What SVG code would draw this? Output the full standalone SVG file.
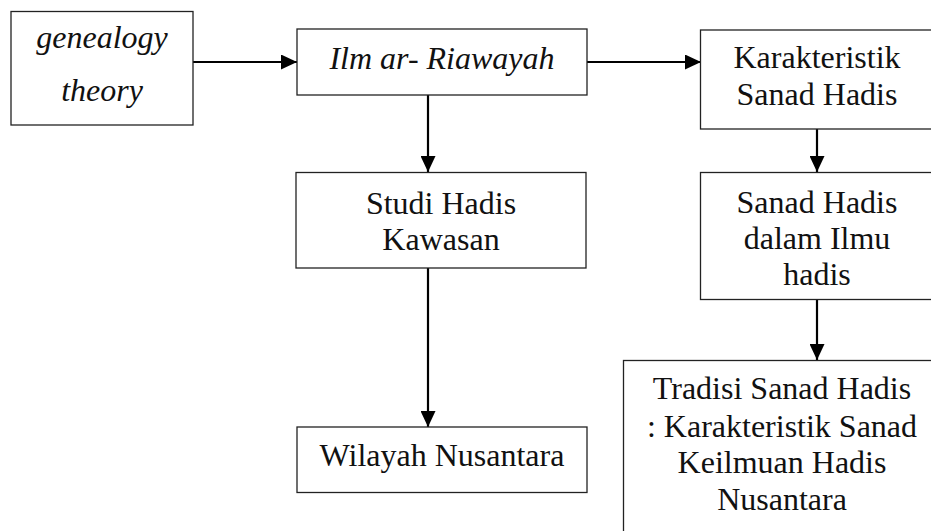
<svg xmlns="http://www.w3.org/2000/svg" width="931" height="531" viewBox="0 0 931 531">
<defs>
<style>
.box{fill:#fff;stroke:#222;stroke-width:1.3}
.t{font-size:32px;fill:#111;text-anchor:middle}
.i{font-style:italic}
.c{stroke:#000;stroke-width:2.2;fill:none;marker-end:url(#ah)}
</style>
<marker id="ah" viewBox="0 0 16 15" refX="16" refY="7.5" markerWidth="16" markerHeight="15" markerUnits="userSpaceOnUse" orient="auto">
<path d="M0,0 L16,7.5 L0,15 Z" fill="#000"/>
</marker>
</defs>
<rect width="931" height="531" fill="#fff"/>
<g id="connectors">
<line class="c" x1="193" y1="62" x2="297" y2="62"/>
<line class="c" x1="587" y1="62" x2="701" y2="62"/>
<line class="c" x1="428" y1="95" x2="428" y2="172"/>
<line class="c" x1="428" y1="268" x2="428" y2="427"/>
<line class="c" x1="817" y1="129" x2="817" y2="172"/>
<line class="c" x1="817" y1="299" x2="817" y2="360"/>
</g>
<g font-family="'Liberation Serif', 'Times New Roman', Times, serif">
<g id="genealogy">
<rect class="box" x="11" y="11.5" width="182" height="113.5"/>
<text class="t i" x="102" y="48">genealogy</text>
<text class="t i" x="102" y="101">theory</text>
</g>
<g id="ilm">
<rect class="box" x="297" y="29" width="290" height="66"/>
<text class="t i" x="442" y="69">Ilm ar- Riawayah</text>
</g>
<g id="karakteristik">
<rect class="box" x="700.5" y="30" width="240" height="99"/>
<text class="t" x="817" y="68">Karakteristik</text>
<text class="t" x="817" y="105">Sanad Hadis</text>
</g>
<g id="studi">
<rect class="box" x="296" y="172.5" width="290" height="95.5"/>
<text class="t" x="441" y="214">Studi Hadis</text>
<text class="t" x="441" y="250">Kawasan</text>
</g>
<g id="sanad">
<rect class="box" x="700.5" y="172.5" width="240" height="127"/>
<text class="t" x="817" y="212.5">Sanad Hadis</text>
<text class="t" x="817" y="249">dalam Ilmu</text>
<text class="t" x="817" y="285">hadis</text>
</g>
<g id="wilayah">
<rect class="box" x="297" y="427" width="290" height="65.5"/>
<text class="t" x="442" y="466">Wilayah Nusantara</text>
</g>
<g id="tradisi">
<rect class="box" x="623.5" y="360.5" width="320" height="190"/>
<text class="t" x="782" y="399">Tradisi Sanad Hadis</text>
<text class="t" x="782" y="436.5">: Karakteristik Sanad</text>
<text class="t" x="782" y="473">Keilmuan Hadis</text>
<text class="t" x="782" y="510">Nusantara</text>
</g>
</g>
</svg>
